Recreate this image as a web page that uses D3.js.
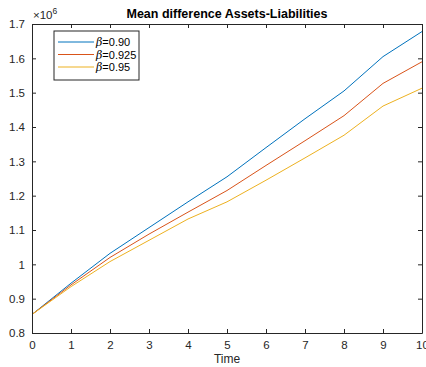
<!DOCTYPE html>
<html>
<head>
<meta charset="utf-8">
<script src="https://cdn.jsdelivr.net/npm/d3@7"></script>
<style>
  body { margin: 0; background: #fff; }
  svg { display: block; font-family: "Liberation Sans", Arial, Helvetica, sans-serif; }
</style>
</head>
<body>
<script>
// Data (values in units of 1e6)
const time = [0, 1, 2, 3, 4, 5, 6, 7, 8, 9, 10];
const beta090  = [0.854, 0.945, 1.032, 1.107, 1.182, 1.255, 1.340, 1.424, 1.505, 1.605, 1.678];
const beta0925 = [0.854, 0.940, 1.020, 1.088, 1.152, 1.215, 1.288, 1.360, 1.433, 1.527, 1.590];
const beta095  = [0.854, 0.935, 1.008, 1.070, 1.132, 1.182, 1.245, 1.310, 1.376, 1.461, 1.513];
const seriesNames = ["0.90", "0.925", "0.95"];
const xTicks = [0, 1, 2, 3, 4, 5, 6, 7, 8, 9, 10];
const yTicks = [0.8, 0.9, 1, 1.1, 1.2, 1.3, 1.4, 1.5, 1.6, 1.7];

const width = 426, height = 367;
const margin = {top: 24, right: 4, bottom: 34, left: 32};
const axisColor = "#262626";
const colors = ["#0072BD", "#D95319", "#EDB120"];

const svg = d3.select("body").append("svg")
    .attr("width", width)
    .attr("height", height);

const x = d3.scaleLinear().domain([0, 10]).range([margin.left, width - margin.right]);
const y = d3.scaleLinear().domain([0.8, 1.7]).range([height - margin.bottom, margin.top]);

// lines
const line = d3.line()
    .x(function(d, i) { return x(time[i]); })
    .y(function(d) { return y(d); });

[beta090, beta0925, beta095].forEach(function(s, k) {
  svg.append("path")
      .datum(s)
      .attr("fill", "none")
      .attr("stroke", colors[k])
      .attr("stroke-width", 1)
      .attr("d", line);
});

// axes (ticks pointing inward, box on all sides)
const tickLen = 4;
const xAxis = svg.append("g")
    .attr("transform", "translate(0," + y.range()[0] + ")")
    .call(d3.axisBottom(x).tickValues(xTicks).tickSizeInner(-tickLen).tickSizeOuter(0).tickPadding(8));
const yAxis = svg.append("g")
    .attr("transform", "translate(" + x.range()[0] + ",0)")
    .call(d3.axisLeft(y).tickValues(yTicks).tickFormat(d3.format("~g")).tickSizeInner(-tickLen).tickSizeOuter(0).tickPadding(7));
const xTop = svg.append("g")
    .attr("transform", "translate(0," + y.range()[1] + ")")
    .call(d3.axisTop(x).tickValues(xTicks).tickFormat("").tickSizeInner(-tickLen).tickSizeOuter(0));
const yRight = svg.append("g")
    .attr("transform", "translate(" + x.range()[1] + ",0)")
    .call(d3.axisRight(y).tickValues(yTicks).tickFormat("").tickSizeInner(-tickLen).tickSizeOuter(0));

[xAxis, yAxis, xTop, yRight].forEach(function(g) {
  g.select(".domain").attr("stroke", axisColor).attr("stroke-width", 1);
  g.selectAll(".tick line").attr("stroke", axisColor);
  g.selectAll("text").attr("fill", axisColor).style("font-size", "11.5px").style("font-family", "inherit");
});

// exponent label
const expo = svg.append("text")
    .attr("x", x(0) + 1)
    .attr("y", 19)
    .attr("fill", axisColor)
    .style("font-size", "11.5px");
expo.append("tspan").text("\u00d710");
expo.append("tspan").attr("dy", -5).style("font-size", "8.5px").text("6");

// title
svg.append("text")
    .attr("x", 227)
    .attr("y", 18)
    .attr("text-anchor", "middle")
    .attr("fill", "#000")
    .style("font-size", "12.5px")
    .style("font-weight", "bold")
    .text("Mean difference Assets-Liabilities");

// x label
svg.append("text")
    .attr("x", (x.range()[0] + x.range()[1]) / 2)
    .attr("y", 363)
    .attr("text-anchor", "middle")
    .attr("fill", axisColor)
    .style("font-size", "12px")
    .text("Time");

// legend
const legend = svg.append("g").attr("transform", "translate(54,31)");
legend.append("rect")
    .attr("width", 85)
    .attr("height", 49)
    .attr("fill", "#fff")
    .attr("stroke", axisColor)
    .attr("stroke-width", 1);
seriesNames.forEach(function(name, k) {
  const ly = 11 + k * 12.5;
  legend.append("line")
      .attr("x1", 4).attr("x2", 40)
      .attr("y1", ly).attr("y2", ly)
      .attr("stroke", colors[k]);
  const t = legend.append("text")
      .attr("x", 42)
      .attr("y", ly + 4)
      .attr("fill", "#000")
      .style("font-size", "11px");
  t.append("tspan").style("font-style", "italic").style("font-family", "'DejaVu Serif', serif").text("\u03b2");
  t.append("tspan").text("=" + name);
});
</script>
</body>
</html>
